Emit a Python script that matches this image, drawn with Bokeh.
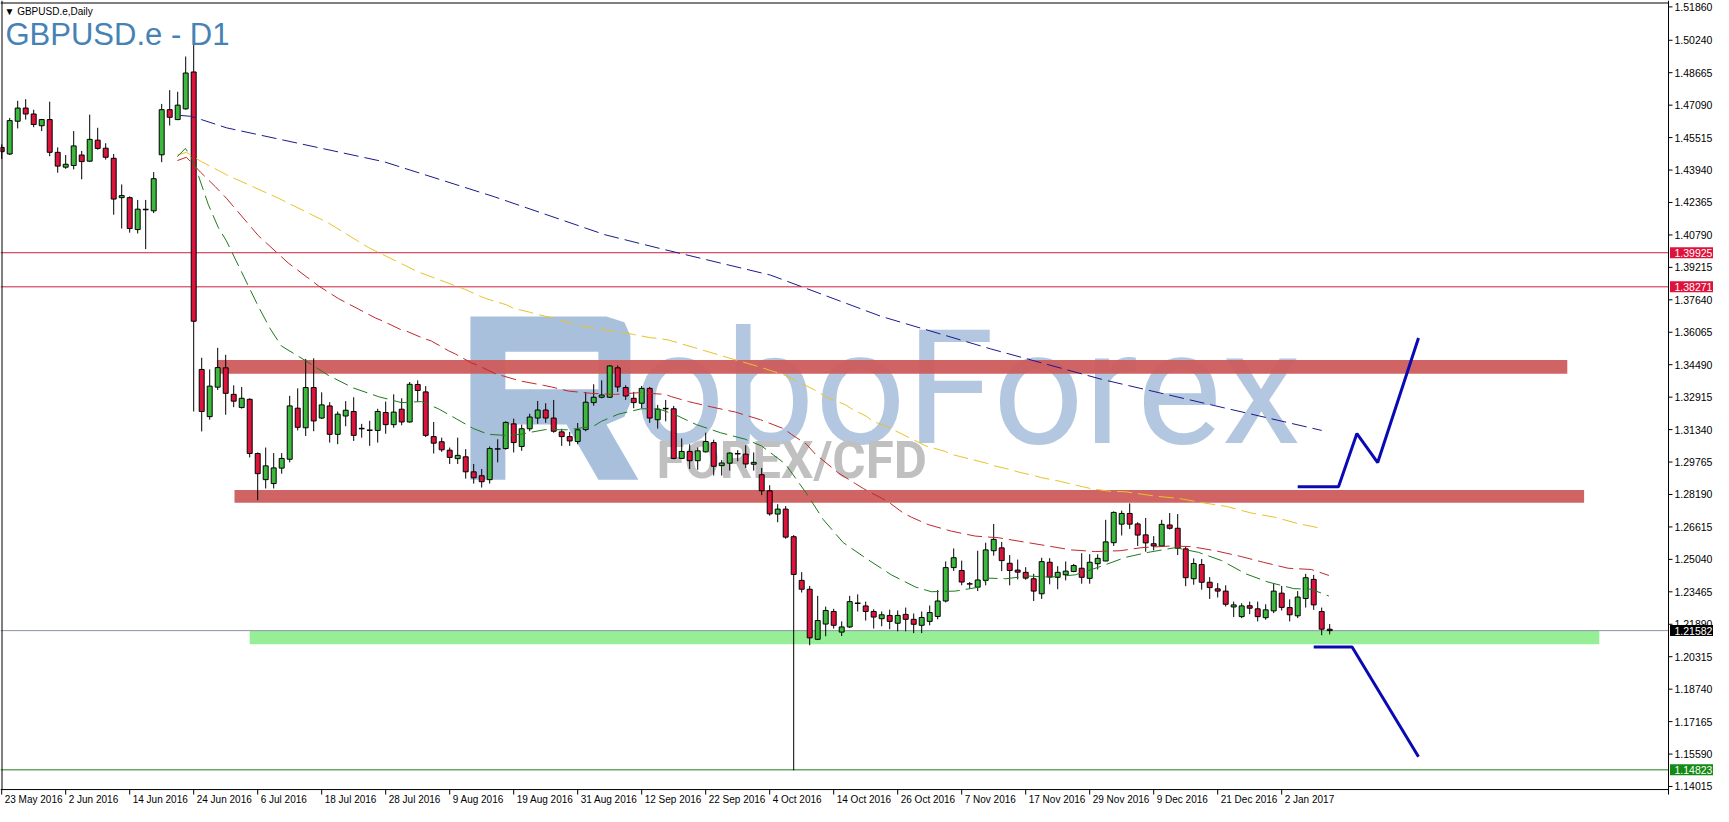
from bokeh.plotting import figure
from bokeh.models import Range1d
from bokeh.core.properties import value
from bokeh.embed import file_html
from bokeh.resources import INLINE

symbol_caption = "\u25BC GBPUSD.e,Daily"
chart_title = "GBPUSD.e - D1"
watermark_word = "oboForex"
watermark_sub = "FOREX/CFD"

opens = [1.4504,1.4472,1.4631,1.4695,1.4666,1.4609,1.4639,1.4480,1.4408,1.4416,
         1.4467,1.4437,1.4539,1.4500,1.4451,1.4260,1.4260,1.4105,1.4202,1.4196,
         1.4468,1.4687,1.4639,1.4691,1.4870,1.3426,1.3197,1.3340,1.3434,1.3305,
         1.3241,1.3281,1.3018,1.2891,1.2872,1.2947,1.2990,1.3238,1.3143,1.3338,
         1.3190,1.3249,1.3111,1.3200,1.3222,1.3139,1.3131,1.3130,1.3217,1.3158,
         1.3233,1.3171,1.3353,1.3317,1.3100,1.3075,1.3034,1.2993,1.3002,1.2929,
         1.2910,1.2891,1.3040,1.3042,1.3162,1.3052,1.3138,1.3190,1.3229,1.3190,
         1.3123,1.3100,1.3076,1.3134,1.3265,1.3291,1.3291,1.3434,1.3338,1.3286,
         1.3262,1.3334,1.3182,1.3236,1.3235,1.2994,1.3028,1.2983,1.3026,1.3071,
         1.2959,1.2971,1.3017,1.3015,1.2966,1.2915,1.2837,1.2724,1.2748,1.2614,
         1.2402,1.2359,1.2116,1.2190,1.2251,1.2151,1.2176,1.2291,1.2278,1.2251,
         1.2216,1.2232,1.2194,1.2237,1.2213,1.2184,1.2203,1.2227,1.2302,1.2464,
         1.2450,1.2385,1.2369,1.2402,1.2546,1.2560,1.2485,1.2452,1.2441,1.2410,
         1.2337,1.2490,1.2417,1.2429,1.2445,1.2461,1.2412,1.2483,1.2496,1.2585,
         1.2675,1.2727,1.2676,1.2623,1.2580,1.2569,1.2671,1.2655,1.2555,1.2410,
         1.2479,1.2393,1.2361,1.2350,1.2273,1.2226,1.2279,1.2264,1.2221,1.2254,
         1.2340,1.2270,1.2230,1.2314,1.2407,1.2251,1.2165]
highs = [1.4519,1.4647,1.4730,1.4738,1.4687,1.4642,1.4726,1.4504,1.4467,1.4583,
         1.4487,1.4663,1.4599,1.4524,1.4472,1.4324,1.4266,1.4249,1.4249,1.4384,
         1.4715,1.4782,1.4774,1.4945,1.5013,1.3483,1.3426,1.3531,1.3497,1.3349,
         1.3341,1.3286,1.3023,1.3047,1.3020,1.3020,1.3298,1.3334,1.3477,1.3480,
         1.3315,1.3267,1.3222,1.3272,1.3291,1.3162,1.3177,1.3235,1.3270,1.3305,
         1.3286,1.3365,1.3373,1.3345,1.3171,1.3095,1.3047,1.3095,1.3039,1.2967,
         1.2943,1.3052,1.3087,1.3174,1.3187,1.3158,1.3211,1.3273,1.3262,1.3278,
         1.3138,1.3123,1.3166,1.3315,1.3354,1.3373,1.3446,1.3445,1.3349,1.3317,
         1.3346,1.3341,1.3254,1.3278,1.3249,1.3091,1.3063,1.3047,1.3119,1.3085,
         1.2986,1.3023,1.3034,1.3058,1.3023,1.2948,1.2864,1.2772,1.2763,1.2622,
         1.2442,1.2375,1.2327,1.2275,1.2264,1.2203,1.2327,1.2334,1.2299,1.2262,
         1.2251,1.2260,1.2256,1.2270,1.2241,1.2251,1.2280,1.2355,1.2494,1.2557,
         1.2498,1.2394,1.2546,1.2585,1.2676,1.2589,1.2525,1.2503,1.2466,1.2434,
         1.2512,1.2510,1.2471,1.2494,1.2482,1.2534,1.2529,1.2529,1.2696,1.2737,
         1.2741,1.2776,1.2684,1.2705,1.2617,1.2696,1.2729,1.2724,1.2569,1.2509,
         1.2506,1.2418,1.2389,1.2378,1.2299,1.2291,1.2299,1.2299,1.2286,1.2389,
         1.2375,1.2310,1.2350,1.2434,1.2429,1.2270,1.2190]
lows = [1.4448,1.4467,1.4596,1.4639,1.4602,1.4583,1.4461,1.4381,1.4400,1.4397,
        1.4349,1.4434,1.4493,1.4445,1.4177,1.4110,1.4090,1.4086,1.4010,1.4185,
        1.4432,1.4610,1.4636,1.4687,1.3222,1.3125,1.3182,1.3326,1.3206,1.3243,
        1.3236,1.2999,1.2791,1.2848,1.2848,1.2920,1.2975,1.3130,1.3103,1.3126,
        1.3186,1.3071,1.3063,1.3150,1.3079,1.3095,1.3055,1.3071,1.3114,1.3143,
        1.3155,1.3168,1.3270,1.3098,1.3018,1.3026,1.2967,1.2967,1.2896,1.2872,
        1.2853,1.2872,1.2975,1.3037,1.3023,1.3031,1.3126,1.3162,1.3167,1.3119,
        1.3055,1.3055,1.3063,1.3126,1.3250,1.3286,1.3288,1.3317,1.3278,1.3238,
        1.3238,1.3167,1.3139,1.3174,1.2990,1.2993,1.2943,1.2939,1.3023,1.2911,
        1.2911,1.2935,1.2980,1.2948,1.2935,1.2816,1.2716,1.2684,1.2604,1.1480,
        1.2343,1.2087,1.2112,1.2131,1.2168,1.2132,1.2171,1.2251,1.2207,1.2168,
        1.2179,1.2165,1.2155,1.2155,1.2146,1.2146,1.2184,1.2213,1.2295,1.2448,
        1.2378,1.2362,1.2350,1.2378,1.2522,1.2447,1.2378,1.2407,1.2405,1.2302,
        1.2312,1.2383,1.2359,1.2402,1.2442,1.2386,1.2386,1.2455,1.2496,1.2569,
        1.2620,1.2652,1.2569,1.2541,1.2548,1.2565,1.2649,1.2525,1.2374,1.2381,
        1.2357,1.2312,1.2319,1.2275,1.2224,1.2219,1.2238,1.2203,1.2211,1.2243,
        1.2256,1.2203,1.2219,1.2270,1.2259,1.2136,1.2140]
closes = [1.4483,1.4634,1.4695,1.4666,1.4615,1.4639,1.4480,1.4413,1.4422,1.4511,
          1.4435,1.4543,1.4499,1.4456,1.4253,1.4270,1.4110,1.4204,1.4202,1.4352,
          1.4687,1.4650,1.4709,1.4865,1.3660,1.3222,1.3345,1.3435,1.3310,1.3272,
          1.3286,1.3018,1.2920,1.2958,1.2948,1.2994,1.3249,1.3145,1.3338,1.3176,
          1.3254,1.3111,1.3209,1.3228,1.3106,1.3139,1.3131,1.3222,1.3158,1.3219,
          1.3171,1.3354,1.3324,1.3106,1.3068,1.3036,1.2999,1.3009,1.2929,1.2900,
          1.2881,1.3042,1.3040,1.3169,1.3071,1.3138,1.3195,1.3229,1.3190,1.3126,
          1.3100,1.3079,1.3133,1.3267,1.3291,1.3302,1.3443,1.3341,1.3297,1.3265,
          1.3334,1.3190,1.3233,1.3236,1.2994,1.3028,1.2983,1.3031,1.3076,1.2956,
          1.2972,1.3020,1.3017,1.2967,1.2975,1.2837,1.2725,1.2748,1.2612,1.2431,
          1.2359,1.2123,1.2207,1.2256,1.2184,1.2176,1.2299,1.2291,1.2251,1.2224,
          1.2235,1.2203,1.2232,1.2213,1.2189,1.2222,1.2246,1.2302,1.2464,1.2512,
          1.2394,1.2385,1.2404,1.2550,1.2601,1.2498,1.2450,1.2442,1.2413,1.2350,
          1.2493,1.2418,1.2441,1.2447,1.2474,1.2417,1.2490,1.2509,1.2589,1.2732,
          1.2727,1.2675,1.2622,1.2584,1.2569,1.2674,1.2655,1.2558,1.2415,1.2484,
          1.2393,1.2367,1.2350,1.2286,1.2283,1.2278,1.2267,1.2226,1.2259,1.2350,
          1.2271,1.2235,1.2321,1.2415,1.2283,1.2165,1.21582]

# moving averages (bar position, price)
ma_green_x = [21.96,22.96,23.71,24.46,25.84,27.09,28.09,32.09,33.59,34.96,37.96,40.84,43.96,47.09,49.96,
              52.46,54.59,56.84,58.96,60.84,62.96,64.84,65.84,67.96,70.59,71.84,73.96,74.96,77.09,79.96,
              82.09,84.21,86.84,89.84,92.96,94.96,97.96,100.6,102.7,105.2,108.2,111.2,114.2,116.2,119.2,
              122.3,123.3,125.5,128.3,131.2,134.2,137.1,140.5,143.3,146.7,149.6,152.5,155.5,158.3,161.5,
              163.7,165.9]
ma_green_y = [1.4459,1.4499,1.4456,1.4381,1.4225,1.4114,1.4050,1.3731,1.3622,1.3540,1.3469,1.3397,1.3336,1.3294,1.3265,
              1.3270,1.3235,1.3186,1.3139,1.3111,1.3106,1.3111,1.3119,1.3134,1.3133,1.3139,1.3150,1.3174,1.3209,1.3235,
              1.3235,1.3206,1.3158,1.3119,1.3087,1.3055,1.2967,1.2824,1.2697,1.2585,1.2505,1.2429,1.2370,1.2347,1.2350,
              1.2370,1.2413,1.2410,1.2423,1.2418,1.2429,1.2466,1.2514,1.2538,1.2561,1.2538,1.2498,1.2434,1.2394,1.2362,
              1.2359,1.2326]
ma_red_x = [21.96,23.09,24.84,26.71,28.09,32.09,35.84,39.59,42.09,44.6,46.71,47.71,49.84,50.6,52.71,53.71,
            55.84,56.71,58.71,59.59,61.71,62.71,64.84,67.71,68.71,70.84,73.71,76.71,79.59,82.96,83.7,85.84,
            88.71,91.71,94.84,97.71,98.71,100.6,101.7,103.7,104.6,106.7,107.7,110.8,112.7,113.7,115.8,118.7,
            121.7,124.6,127.7,130.8,133.7,136.7,139.8,142.5,146.2,148.7,151.7,154.8,157.7,160.8,163.7,165.9]
ma_red_y = [1.4440,1.4456,1.4384,1.4313,1.4257,1.4075,1.3942,1.3832,1.3770,1.3719,1.3676,1.3660,1.3620,1.3612,1.3577,1.3564,
            1.3517,1.3501,1.3458,1.3445,1.3405,1.3394,1.3370,1.3349,1.3341,1.3321,1.3310,1.3305,1.3313,1.3305,1.3294,1.3270,
            1.3244,1.3219,1.3182,1.3139,1.3111,1.3063,1.3015,1.2952,1.2923,1.2872,1.2848,1.2784,1.2729,1.2709,1.2673,1.2641,
            1.2617,1.2609,1.2589,1.2569,1.2550,1.2542,1.2546,1.2561,1.2569,1.2566,1.2546,1.2519,1.2490,1.2461,1.2455,1.2426]
ma_gold_x = [21.96,23.09,24.96,27.09,28.09,34.6,40.84,45.84,52.09,57.96,59.96,61.09,63.09,63.96,66.09,67.09,
             69.21,69.96,72.09,72.96,74.96,75.84,77.96,78.96,81.09,82.09,83.34,87.1,90.8,94.6,97.96,102.1,
             102.96,105.5,106.1,108.1,108.96,110.8,115.5,117.96,118.6,123.1,123.96,126.2,127.1,129.2,129.96,
             132.3,133.1,135.2,136.1,138.4,140.5,144.2,147.1,149.96,153.1,156.2,159.2,162.1,165.2]
ma_gold_y = [1.4467,1.4480,1.4435,1.4392,1.4371,1.4257,1.4137,1.4018,1.3899,1.3814,1.3779,1.3763,1.3740,1.3723,1.3703,1.3692,
             1.3673,1.3663,1.3639,1.3633,1.3620,1.3615,1.3604,1.3596,1.3580,1.3577,1.3569,1.3526,1.3483,1.3440,1.3397,1.3317,
             1.3294,1.3254,1.3238,1.3198,1.3174,1.3146,1.3055,1.3028,1.3015,1.2971,1.2959,1.2939,1.2928,1.2909,1.2901,
             1.2883,1.2875,1.2856,1.2848,1.2835,1.2832,1.2811,1.2800,1.2780,1.2761,1.2729,1.2708,1.2677,1.2653]
ma_navy_x = [22.34,23.59,24.96,27.09,28.09,47.8,61.6,75.4,82.3,96.1,109.9,123.6,137.5,151.2,165.0]
ma_navy_y = [1.4659,1.4655,1.4639,1.4612,1.4599,1.4434,1.4264,1.4080,1.4013,1.3884,1.3684,1.3526,1.3378,1.3254,1.3130]

price_ticks = [1.51860,1.50240,1.48665,1.47090,1.45515,1.43940,1.42365,1.40790,1.39215,1.37640,1.36065,
               1.34490,1.32915,1.31340,1.29765,1.28190,1.26615,1.25040,1.23465,1.21890,1.20315,1.18740,
               1.17165,1.15590,1.14015]
date_bars = [0,8,16,24,32,40,48,56,64,72,80,88,96,104,112,120,128,136,144,152,160]
date_labels = ["23 May 2016","2 Jun 2016","14 Jun 2016","24 Jun 2016","6 Jul 2016","18 Jul 2016",
               "28 Jul 2016","9 Aug 2016","19 Aug 2016","31 Aug 2016","12 Sep 2016","22 Sep 2016",
               "4 Oct 2016","14 Oct 2016","26 Oct 2016","7 Nov 2016","17 Nov 2016","29 Nov 2016",
               "9 Dec 2016","21 Dec 2016","2 Jan 2017"]

# drawn objects on the chart
zone_left = [26.9, 29.1, 31.0]
zone_right = [195.7, 197.8, 199.7]
zone_top = [1.3472, 1.2841, 1.2156]
zone_bottom = [1.3405, 1.2779, 1.2092]
zone_colors = ["#cd5c5c", "#cd5c5c", "#90ee90"]

level_prices = [1.39925, 1.38271, 1.21582, 1.14823]
level_texts = ["1.39925", "1.38271", "1.21582", "1.14823"]
level_line_colors = ["#c8203c", "#c8203c", "#8c96a0", "#1e7a1e"]
level_tag_colors = ["#dc143c", "#dc143c", "#000000", "#138a13"]

up_path_x = [162.0, 167.1, 169.4, 172.0, 177.1]
up_path_y = [1.2857, 1.2857, 1.3115, 1.2974, 1.3579]
down_path_x = [164.0, 168.8, 177.1]
down_path_y = [1.2079, 1.2079, 1.1546]

# watermark logo letter (outline and counter, in bar / price units)
logo_x = [58.59, 75.59, 77.84, 78.59, 78.59, 77.84, 75.59, 79.59, 74.59, 70.59, 62.96, 62.96, 58.59]
logo_y = [1.36836, 1.36836, 1.36549, 1.35881, 1.32633, 1.31965, 1.31583, 1.28909, 1.28909,
          1.31583, 1.31583, 1.28909, 1.28909]
logo_hole = (62.96, 74.59, 1.35117, 1.33302)   # left, right, top, bottom

# ---------------------------------------------------------------- layout
W, H = 1713, 806
PPB = 8.0                       # pixels per bar
X0 = -0.15                      # left edge of the chart (bars)
XA = X0 + 1668 / PPB            # price-scale line
X2 = X0 + W / PPB
Y1 = 1.5217
PPU = 2060.0                    # pixels per price unit
Y0 = Y1 - H / PPU
YB = 1.13866                    # bottom line of the chart area
px_x = 1.0 / PPB
px_y = 1.0 / PPU

p = figure(width=W, height=H, output_backend="svg", toolbar_location=None,
           x_range=Range1d(X0, X2), y_range=Range1d(Y0, Y1),
           x_axis_location=None, y_axis_location=None,
           min_border_left=0, min_border_top=0, min_border_right=0, min_border_bottom=0)
p.xgrid.visible = False
p.ygrid.visible = False
p.outline_line_color = None
p.background_fill_color = "white"
p.border_fill_color = "white"

# watermark (behind everything)
p.patch(logo_x, logo_y, fill_color="#a9c0dd", line_color=None)
p.quad(left=[logo_hole[0]], right=[logo_hole[1]], top=[logo_hole[2]], bottom=[logo_hole[3]],
       fill_color="white", line_color=None)
p.text(x=[79.0], y=[1.3333], text=[watermark_word], text_font=value("Roboto"),
       text_font_size="160px", text_color="#b3c7e0",
       text_baseline="middle", text_align="left")
p.text(x=[81.85], y=[1.2986], text=[watermark_sub], text_font=value("Roboto"),
       text_font_style="bold", text_font_size="51px", text_color="#c0c0c0",
       text_baseline="middle", text_align="left")

# zones
p.quad(left=zone_left, right=zone_right, top=zone_top, bottom=zone_bottom,
       fill_color=zone_colors, line_color=None, fill_alpha=0.95)

# horizontal levels
n_lv = len(level_prices)
p.segment(x0=[X0] * n_lv, x1=[XA] * n_lv, y0=level_prices, y1=level_prices,
          line_color=level_line_colors, line_width=1)

# candles
idx = list(range(len(opens)))
tops = [max(o, c) for o, c in zip(opens, closes)]
bots = [min(o, c) for o, c in zip(opens, closes)]
cols = ["#3cb83c" if c > o else "#dc143c" for o, c in zip(opens, closes)]
p.segment(x0=idx, y0=lows, x1=idx, y1=highs, line_color="black", line_width=1)
body = [i for i in idx if opens[i] != closes[i]]
p.vbar(x=[idx[i] for i in body], width=0.62, top=[tops[i] for i in body],
       bottom=[bots[i] for i in body], fill_color=[cols[i] for i in body],
       line_color="black", line_width=1)
doji = [i for i in idx if opens[i] == closes[i]]
p.segment(x0=[i - 0.35 for i in doji], x1=[i + 0.35 for i in doji],
          y0=[opens[i] for i in doji], y1=[opens[i] for i in doji],
          line_color="black", line_width=1.5)

# moving averages
dash = "15 6"
p.line(ma_navy_x, ma_navy_y, line_color="#1a1a8c", line_width=1, line_dash=dash)
p.line(ma_gold_x, ma_gold_y, line_color="#e6c32a", line_width=1, line_dash=dash)
p.line(ma_red_x, ma_red_y, line_color="#c0282d", line_width=1, line_dash=dash)
p.line(ma_green_x, ma_green_y, line_color="#1e7a1e", line_width=1, line_dash=dash)

# scenario paths
p.line(up_path_x, up_path_y, line_color="#0a0ab4", line_width=3)
p.line(down_path_x, down_path_y, line_color="#0a0ab4", line_width=3)

# chart frame: top, left, bottom lines and the price-scale line
p.segment(x0=[X0, X0 + 1.5 * px_x, X0, XA],
          x1=[XA, X0 + 1.5 * px_x, XA, XA],
          y0=[Y1 - 2.5 * px_y, Y1, YB, Y1],
          y1=[Y1 - 2.5 * px_y, YB, YB, YB - 5 * px_y],
          line_color="black", line_width=1)

# time scale: tick marks and date labels
n_d = len(date_bars)
p.segment(x0=date_bars, x1=date_bars, y0=[YB] * n_d, y1=[YB - 5 * px_y] * n_d,
          line_color="black", line_width=1)
p.text(x=date_bars, y=[YB - 10 * px_y] * n_d, text=date_labels, x_offset=3,
       text_font=value("Liberation Sans"), text_font_size="10px", text_color="black",
       text_baseline="middle", text_align="left")

# price scale: tick marks and labels
n_t = len(price_ticks)
p.segment(x0=[XA] * n_t, x1=[XA + 4 * px_x] * n_t, y0=price_ticks, y1=price_ticks,
          line_color="black", line_width=1)
p.text(x=[XA] * n_t, y=price_ticks, text=["%.5f" % t for t in price_ticks],
       x_offset=6, text_font=value("Liberation Sans"), text_font_size="10.5px",
       text_color="black", text_baseline="middle", text_align="left")

# coloured price tags
p.rect(x=[XA + 23.5 * px_x] * n_lv, y=level_prices, width=44, height=11,
       width_units="screen", height_units="screen", fill_color=level_tag_colors,
       line_color=None)
p.text(x=[XA] * n_lv, y=level_prices, text=level_texts, x_offset=6,
       text_font=value("Liberation Sans"), text_font_size="10.5px", text_color="white",
       text_baseline="middle", text_align="left")

# captions
p.text(x=[0.35], y=[1.5162], text=[symbol_caption], text_font=value("Liberation Sans"),
       text_font_size="10px", text_color="black", text_baseline="middle", text_align="left")
p.text(x=[0.475], y=[1.5052], text=[chart_title], text_font=value("Liberation Sans"),
       text_font_size="31px", text_color="#4682b4", text_baseline="middle", text_align="left")

open("out.html", "w").write(file_html(p, INLINE))
